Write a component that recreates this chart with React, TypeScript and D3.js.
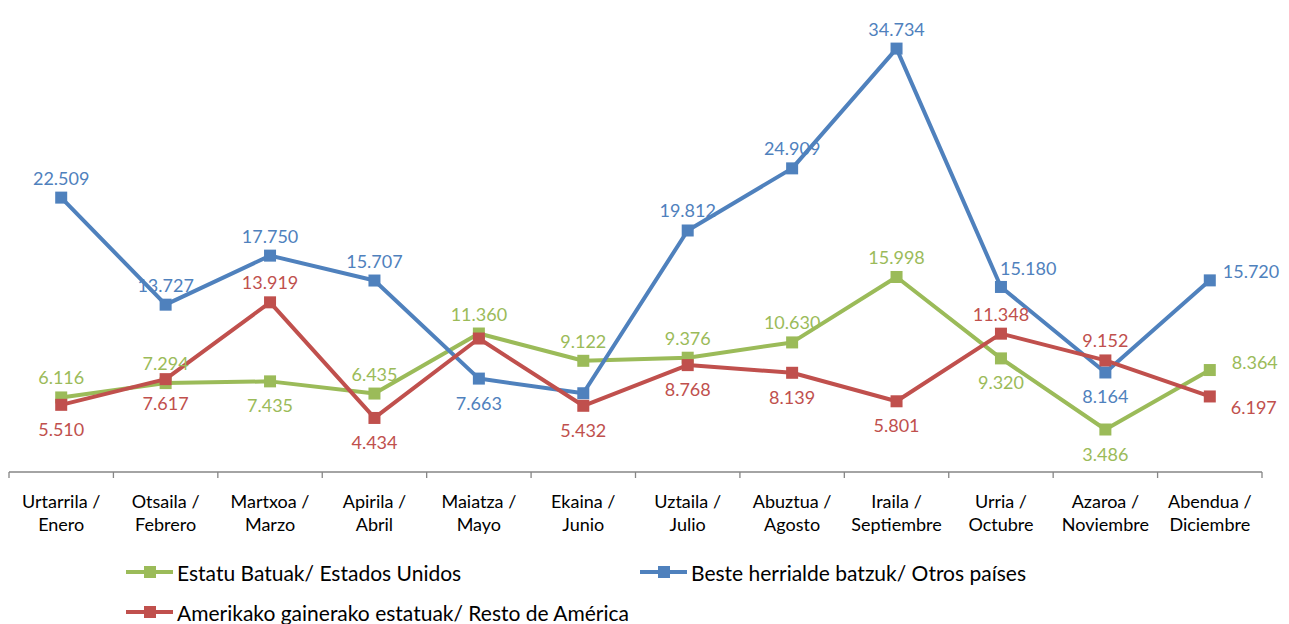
import React, { useEffect, useRef } from 'react';
import * as d3 from 'd3';

const months = [
  ['Urtarrila /', 'Enero'],
  ['Otsaila /', 'Febrero'],
  ['Martxoa /', 'Marzo'],
  ['Apirila /', 'Abril'],
  ['Maiatza /', 'Mayo'],
  ['Ekaina /', 'Junio'],
  ['Uztaila /', 'Julio'],
  ['Abuztua /', 'Agosto'],
  ['Iraila /', 'Septiembre'],
  ['Urria /', 'Octubre'],
  ['Azaroa /', 'Noviembre'],
  ['Abendua /', 'Diciembre'],
];

const estatuBatuak = [6.116, 7.294, 7.435, 6.435, 11.36, 9.122, 9.376, 10.63, 15.998, 9.32, 3.486, 8.364];
const besteHerrialde = [22.509, 13.727, 17.75, 15.707, 7.663, 6.46, 19.812, 24.909, 34.734, 15.18, 8.164, 15.72];
const amerikakoGainerako = [5.51, 7.617, 13.919, 4.434, 10.95, 5.432, 8.768, 8.139, 5.801, 11.348, 9.152, 6.197];

// which points carry a data label (Excel hid a couple of them)
const blueShown = [true, true, true, true, true, false, true, true, true, true, true, true];
const redShown = [true, true, true, true, false, true, true, true, true, true, true, true];

// label placement: a = above, b = below, ar = above, starting at point,
// ra = right/above, rra = further right/above, rrb = further right/below
const greenPlace = ['a', 'a', 'b', 'a', 'a', 'a', 'a', 'a', 'a', 'b', 'b', 'rra'];
const bluePlace = ['a', 'a', 'a', 'a', 'b', 'a', 'a', 'a', 'a', 'ar', 'b', 'ra'];
const redPlace = ['b', 'b', 'a', 'b', 'a', 'b', 'b', 'b', 'b', 'a', 'a', 'rrb'];

const fmt = (v: number) => v.toFixed(3);

const App = () => {
  const svgRef = useRef<SVGSVGElement>(null);

  useEffect(() => {
    const width = 1289;
    const height = 624;
    const font = 'Lato, "Open Sans", sans-serif';

    const svg = d3.select(svgRef.current);
    svg.selectAll('*').remove();
    svg.attr('width', width).attr('height', height);

    const x0 = 9, x1 = 1262, axisY = 472;

    const band = d3.scaleBand().domain(months.map((_, i) => String(i))).range([x0, x1]);
    const x = d3.scalePoint().domain(months.map((_, i) => String(i))).range([x0, x1]).padding(0.5);
    const y = d3.scaleLinear().domain([0, 35]).range([axisY, axisY - 35 * 12.19]);

    // axis
    const axis = svg.append('g');
    axis.append('line')
      .attr('x1', x0).attr('x2', x1).attr('y1', axisY).attr('y2', axisY)
      .attr('stroke', '#868686').attr('stroke-width', 1.3);
    const tickPos = months.map((_, i) => band(String(i)) as number).concat([x1]);
    axis.selectAll('.tick')
      .data(tickPos)
      .enter().append('line')
      .attr('x1', d => d).attr('x2', d => d)
      .attr('y1', axisY).attr('y2', axisY + 6)
      .attr('stroke', '#868686').attr('stroke-width', 1.3);

    const catG = svg.append('g');
    months.forEach((m, i) => {
      const t = catG.append('text')
        .attr('x', x(String(i)) as number)
        .attr('text-anchor', 'middle')
        .style('font-family', font)
        .style('font-size', '18px')
        .style('fill', '#000');
      t.append('tspan').attr('x', x(String(i)) as number).attr('y', 508).text(m[0]);
      t.append('tspan').attr('x', x(String(i)) as number).attr('y', 531).text(m[1]);
    });

    const series = [
      { name: 'green', values: estatuBatuak, color: '#9BBB59', place: greenPlace, shown: estatuBatuak.map(() => true) },
      { name: 'blue', values: besteHerrialde, color: '#4F81BD', place: bluePlace, shown: blueShown },
      { name: 'red', values: amerikakoGainerako, color: '#C0504D', place: redPlace, shown: redShown },
    ];

    const line = d3.line<number>()
      .x((_, i) => x(String(i)) as number)
      .y(d => y(d));

    series.forEach(s => {
      const g = svg.append('g');
      g.append('path')
        .datum(s.values)
        .attr('fill', 'none')
        .attr('stroke', s.color)
        .attr('stroke-width', 4)
        .attr('stroke-linejoin', 'round')
        .attr('d', line);
      g.selectAll('rect')
        .data(s.values)
        .enter().append('rect')
        .attr('x', (_, i) => (x(String(i)) as number) - 6)
        .attr('y', d => y(d) - 6)
        .attr('width', 12)
        .attr('height', 12)
        .attr('fill', s.color);
    });

    // data labels on top
    series.forEach(s => {
      const g = svg.append('g');
      s.values.forEach((v, i) => {
        if (!s.shown[i]) return;
        const px = x(String(i)) as number;
        const py = y(v);
        const p = s.place[i];
        let tx = px, ty = py, anchor = 'middle';
        if (p === 'a') ty = py - 20;
        else if (p === 'b') ty = py + 24;
        else if (p === 'ar') { tx = px - 1; ty = py - 19; anchor = 'start'; }
        else if (p === 'ra') { tx = px + 13; ty = py - 9; anchor = 'start'; }
        else if (p === 'rra') { tx = px + 22; ty = py - 8; anchor = 'start'; }
        else if (p === 'rrb') { tx = px + 21; ty = py + 11; anchor = 'start'; }
        g.append('text')
          .attr('x', tx)
          .attr('y', ty)
          .attr('text-anchor', anchor)
          .attr('dominant-baseline', 'central')
          .style('font-family', font)
          .style('font-size', '18px')
          .style('fill', s.color)
          .text(fmt(v));
      });
    });

    // legend
    const legend = [
      { label: 'Estatu Batuak/ Estados Unidos', color: '#9BBB59', lx: 126, ly: 572 },
      { label: 'Beste herrialde batzuk/ Otros países', color: '#4F81BD', lx: 640, ly: 572 },
      { label: 'Amerikako gainerako estatuak/ Resto de América', color: '#C0504D', lx: 126, ly: 612 },
    ];
    const lg = svg.append('g');
    legend.forEach(l => {
      lg.append('line')
        .attr('x1', l.lx).attr('x2', l.lx + 47)
        .attr('y1', l.ly).attr('y2', l.ly)
        .attr('stroke', l.color).attr('stroke-width', 4);
      lg.append('rect')
        .attr('x', l.lx + 18).attr('y', l.ly - 6)
        .attr('width', 12).attr('height', 12)
        .attr('fill', l.color);
      lg.append('text')
        .attr('x', l.lx + 51)
        .attr('y', l.ly)
        .attr('dominant-baseline', 'central')
        .style('font-family', font)
        .style('font-size', '21px')
        .style('fill', '#000')
        .text(l.label);
    });
  }, []);

  return (
    <div style={{ position: 'absolute', left: 0, top: 0, background: '#fff' }}>
      <svg ref={svgRef}></svg>
    </div>
  );
};

export default App;
